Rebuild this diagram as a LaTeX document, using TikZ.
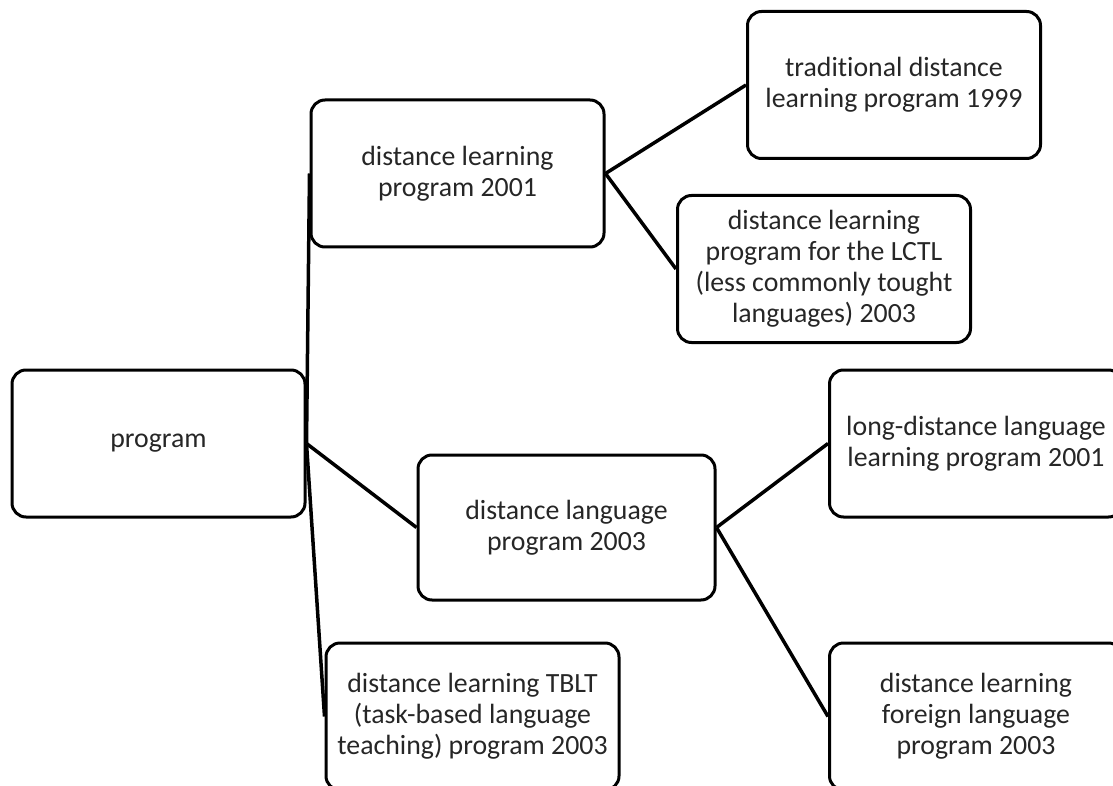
\documentclass[tikz,border=0pt]{standalone}
\usepackage{fontspec}
\setmainfont{Carlito}[Ligatures=NoCommon]
\begin{document}
\begin{tikzpicture}[x=1pt,y=-1pt,
  box/.style={draw=black, line width=3pt, rounded corners=14pt, minimum width=293pt, minimum height=147pt, align=center, inner sep=0pt, font=\fontsize{27.8}{31}\selectfont, text=black!85},
  link/.style={draw=black, line width=3.5pt}]
\useasboundingbox (0,0) rectangle (1113,786);
\node[box] (prog) at (158.5,443.5) {program};
\node[box] (dl) at (457.5,173.5) {distance learning\\program 2001};
\node[box] (trad) at (894,85) {traditional distance\\learning program 1999};
\node[box] (lctl) at (824,269) {distance learning\\program for the LCTL\\(less commonly tought\\languages) 2003};
\node[box, minimum width=297pt, minimum height=145pt] (dlang) at (566.5,527.5) {distance language\\program 2003};
\node[box] (long) at (976,443.5) {long-distance language\\learning program 2001};
\node[box] (tblt) at (472.5,716.5) {distance learning TBLT\\(task-based language\\teaching) program 2003};
\node[box] (foreign) at (976,716.5) {distance learning\\foreign language\\program 2003};
\draw[link] (prog.east) -- (dl.west);
\draw[link] (prog.east) -- (dlang.west);
\draw[link] (prog.east) -- (tblt.west);
\draw[link] (dl.east) -- (trad.west);
\draw[link] (dl.east) -- (lctl.west);
\draw[link] (dlang.east) -- (long.west);
\draw[link] (dlang.east) -- (foreign.west);
\end{tikzpicture}
\end{document}
